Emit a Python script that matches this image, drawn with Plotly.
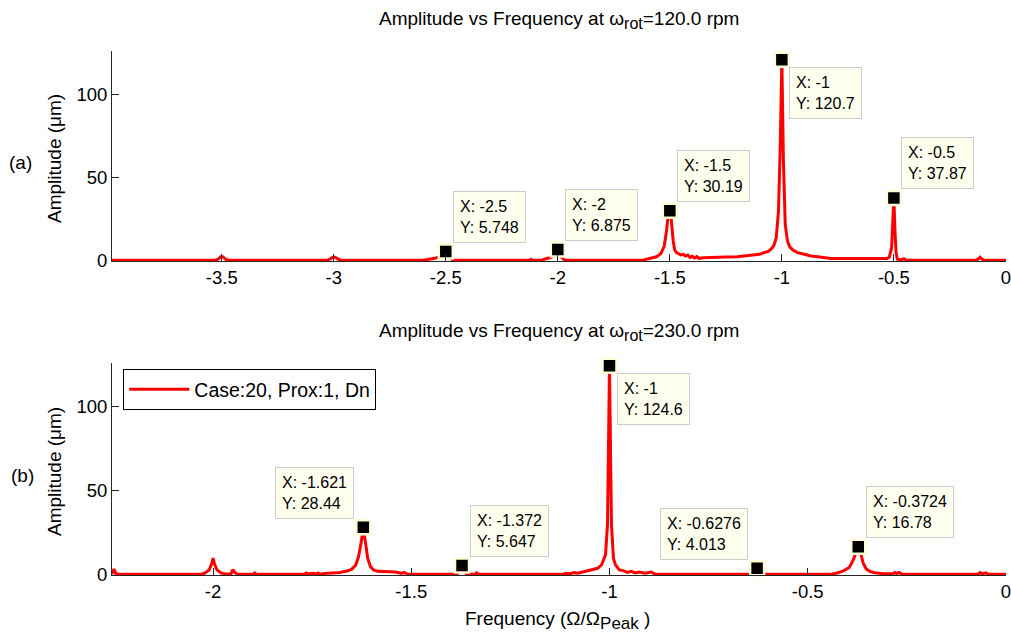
import plotly.graph_objects as go

# ---- spectrum at 120 rpm (panel a) ----
freq_a = [-3.99, -3.53, -3.515, -3.505, -3.495, -3.485, -3.47,
          -3.03, -3.015, -3.005, -2.995, -2.985, -2.97,
          -2.60, -2.58, -2.55, -2.53, -2.515, -2.50, -2.485, -2.47, -2.46,
          -2.13, -2.12, -2.11, -2.07, -2.05, -2.03, -2.015, -2.00, -1.985, -1.97, -1.96,
          -1.62, -1.60, -1.58, -1.56, -1.54, -1.525, -1.515, -1.507, -1.50, -1.493,
          -1.485, -1.478, -1.47, -1.46, -1.45, -1.44, -1.43, -1.42, -1.41, -1.40,
          -1.39, -1.38, -1.37, -1.35, -1.30, -1.25, -1.20, -1.15, -1.12, -1.10,
          -1.08, -1.06, -1.045, -1.035, -1.025, -1.015, -1.007, -1.00, -0.993,
          -0.985, -0.975, -0.965, -0.95, -0.93, -0.90, -0.87, -0.84, -0.80, -0.78,
          -0.53, -0.52, -0.51, -0.505, -0.50, -0.495, -0.49, -0.485, -0.47,
          -0.455, -0.445, -0.13, -0.12, -0.115, -0.11, -0.10, 0.0]
amp_a = [0.4, 0.4, 1.2, 2.6, 2.6, 1.2, 0.4,
         0.4, 1.3, 2.2, 2.2, 1.3, 0.4,
         0.4, 0.8, 1.6, 2.4, 3.5, 5.748, 2.5, 0.6, 0.4,
         0.4, 1.0, 0.4, 0.6, 1.5, 2.2, 3.5, 6.875, 2.5, 0.6, 0.4,
         0.5, 1.2, 1.8, 2.5, 4.5, 9.0, 18.0, 28.0, 30.19, 24.0,
         12.0, 6.5, 5.0, 4.2, 3.6, 4.0, 3.0, 3.6, 2.2, 2.8,
         1.8, 2.6, 1.6, 2.0, 2.0, 2.4, 2.6, 3.2, 3.6, 4.0,
         5.0, 5.8, 7.5, 9.5, 14.0, 30.0, 70.0, 120.7, 60.0,
         22.0, 12.0, 8.5, 6.5, 5.0, 4.0, 3.0, 2.5, 1.8, 1.5,
         1.5, 2.5, 8.0, 20.0, 37.87, 18.0, 5.0, 1.2, 0.6,
         1.4, 0.5, 0.5, 1.6, 2.2, 1.6, 0.5, 0.5]

# ---- spectrum at 230 rpm (panel b) ----
freq_b = [-2.255, -2.25, -2.245, -2.235, -2.03, -2.02, -2.01, -2.003, -2.00, -1.997,
          -1.99, -1.98, -1.97, -1.955, -1.95, -1.945, -1.94, -1.90, -1.895, -1.89,
          -1.77, -1.765, -1.76, -1.75, -1.74, -1.735, -1.73, -1.72, -1.70, -1.68,
          -1.66, -1.65, -1.64, -1.633, -1.626, -1.621, -1.616, -1.61, -1.603, -1.595,
          -1.585, -1.57, -1.54, -1.525, -1.518, -1.51, -1.50, -1.385, -1.377, -1.372,
          -1.367, -1.36, -1.34, -1.335, -1.33, -1.12, -1.11, -1.10, -1.09, -1.08,
          -1.07, -1.05, -1.04, -1.03, -1.02, -1.01, -1.005, -1.00, -0.995, -0.99,
          -0.985, -0.975, -0.965, -0.955, -0.945, -0.935, -0.925, -0.91, -0.895, -0.885,
          -0.87, -0.64, -0.6276, -0.615, -0.44, -0.425, -0.41, -0.395, -0.385, -0.378,
          -0.3724, -0.366, -0.36, -0.352, -0.342, -0.33, -0.31, -0.285, -0.28, -0.275,
          -0.27, -0.262, -0.07, -0.065, -0.06, -0.05, -0.045, 0.0]
amp_b = [0.5, 3.5, 0.8, 0.4, 0.4, 1.2, 3.0, 7.0, 10.0, 7.0,
         3.0, 1.2, 0.6, 0.6, 3.2, 1.5, 0.6, 0.4, 1.2, 0.4,
         0.4, 1.2, 0.5, 1.0, 0.6, 1.2, 0.4, 0.9, 1.2, 1.5,
         2.5, 3.5, 6.0, 11.0, 20.0, 28.44, 20.0, 10.0, 5.0, 3.0,
         2.2, 2.0, 1.8, 1.0, 1.6, 0.6, 0.4, 0.5, 2.0, 5.647,
         2.0, 0.5, 0.4, 1.3, 0.4, 0.4, 1.0, 0.7, 1.4, 1.0,
         1.6, 2.4, 3.2, 4.0, 6.0, 12.0, 30.0, 124.6, 30.0, 10.0,
         6.0, 3.0, 2.6, 1.6, 2.2, 1.2, 1.8, 1.0, 1.8, 0.6,
         0.5, 0.5, 4.013, 0.5, 0.5, 1.2, 2.5, 4.5, 9.0, 14.0,
         16.78, 13.0, 7.0, 3.5, 2.0, 1.3, 0.8, 0.7, 1.5, 0.8,
         1.5, 0.6, 0.5, 1.4, 0.7, 1.3, 0.5, 0.5]

# data-cursor points picked on each spectrum
tips_a_x = [-2.5, -2.0, -1.5, -1.0, -0.5]
tips_a_y = [5.748, 6.875, 30.19, 120.7, 37.87]
tips_a_pos = ["ur", "ur", "ur", "dr", "ur"]
tips_b_x = [-1.621, -1.372, -1.0, -0.6276, -0.3724]
tips_b_y = [28.44, 5.647, 124.6, 4.013, 16.78]
tips_b_pos = ["ul", "ur", "dr", "ul", "ur"]

xticks_a = [-3.5, -3.0, -2.5, -2.0, -1.5, -1.0, -0.5, 0.0]
xticks_b = [-2.0, -1.5, -1.0, -0.5, 0.0]
yticks = [0, 50, 100]

W, H = 1011, 634
L, R, T, B = 112, 5, 51, 59
PW, PH = W - L - R, H - T - B
FONT = "Liberation Sans, Arial, sans-serif"


def px(xp):
    return (xp - L) / PW


def py(yp):
    return (H - B - yp) / PH


def fmt(v):
    return "%.4g" % v


fig = go.Figure()
fig.add_trace(go.Scatter(x=freq_a, y=amp_a, mode="lines", xaxis="x", yaxis="y",
                         line=dict(color="#ff0000", width=3), showlegend=False))
fig.add_trace(go.Scatter(x=freq_b, y=amp_b, mode="lines", xaxis="x2", yaxis="y2",
                         line=dict(color="#ff0000", width=3),
                         name="Case:20, Prox:1, Dn", showlegend=True))

marker_style = dict(symbol="square", size=14, color="black",
                    line=dict(color="#fffbd6", width=2.5))
fig.add_trace(go.Scatter(x=tips_a_x, y=tips_a_y, mode="markers", xaxis="x", yaxis="y",
                         marker=marker_style, showlegend=False, cliponaxis=False))
fig.add_trace(go.Scatter(x=tips_b_x, y=tips_b_y, mode="markers", xaxis="x2", yaxis="y2",
                         marker=marker_style, showlegend=False, cliponaxis=False))

annotations = []
placements = {
    "ur": dict(xanchor="left", yanchor="bottom", xshift=7.5, yshift=8.5),
    "dr": dict(xanchor="left", yanchor="top", xshift=7.5, yshift=-7.5),
    "ul": dict(xanchor="right", yanchor="bottom", xshift=-9, yshift=8),
}
for xs, ys, ps, xr, yr in [(tips_a_x, tips_a_y, tips_a_pos, "x", "y"),
                           (tips_b_x, tips_b_y, tips_b_pos, "x2", "y2")]:
    for xv, yv, pv in zip(xs, ys, ps):
        annotations.append(dict(
            x=xv, y=yv, xref=xr, yref=yr, showarrow=False,
            text="X: %s<br>Y: %s" % (fmt(xv), fmt(yv)), align="left",
            font=dict(family=FONT, size=16, color="black"),
            bgcolor="#ffffee", bordercolor="#cccccc", borderwidth=1, borderpad=6,
            **placements[pv]))

title_font = dict(family=FONT, size=19, color="black")
label_font = dict(family=FONT, size=19, color="black")
sub_rot = "<sub><span style='font-size:16px'>rot</span></sub>"
sub_peak = "<sub><span style='font-size:17px'>Peak</span></sub>"
annotations += [
    dict(x=0.5, y=py(20), xref="paper", yref="paper", showarrow=False,
         text="Amplitude vs Frequency at ω" + sub_rot + "=120.0 rpm",
         font=title_font, xanchor="center", yanchor="middle"),
    dict(x=0.5, y=py(332), xref="paper", yref="paper", showarrow=False,
         text="Amplitude vs Frequency at ω" + sub_rot + "=230.0 rpm",
         font=title_font, xanchor="center", yanchor="middle"),
    dict(x=px(54), y=py(159), xref="paper", yref="paper", showarrow=False,
         text="Amplitude (μm)", textangle=-90, font=label_font,
         xanchor="center", yanchor="middle"),
    dict(x=px(54), y=py(472), xref="paper", yref="paper", showarrow=False,
         text="Amplitude (μm)", textangle=-90, font=label_font,
         xanchor="center", yanchor="middle"),
    dict(x=px(20), y=py(162), xref="paper", yref="paper", showarrow=False,
         text="(a)", font=label_font, xanchor="center", yanchor="middle"),
    dict(x=px(22), y=py(475), xref="paper", yref="paper", showarrow=False,
         text="(b)", font=label_font, xanchor="center", yanchor="middle"),
    dict(x=px(557), y=py(620), xref="paper", yref="paper", showarrow=False,
         text="Frequency (Ω/Ω" + sub_peak + " )", font=label_font,
         xanchor="center", yanchor="middle"),
]

axis_common = dict(showgrid=False, zeroline=False, showline=True, linecolor="#262626",
                   linewidth=1, ticks="inside", ticklen=7, tickwidth=1, tickcolor="#262626",
                   ticklabeloverflow="allow", automargin=False,
                   tickfont=dict(family=FONT, size=18.5, color="black"))


def tick_text(vals):
    return [("%g" % v) if v != 0 else "0" for v in vals]


fig.update_layout(
    width=W, height=H, margin=dict(l=L, r=R, t=T, b=B, autoexpand=False),
    paper_bgcolor="white", plot_bgcolor="white",
    font=dict(family=FONT, size=18, color="black"),
    xaxis=dict(domain=[0, 1], anchor="y", range=[-3.99, 0.0005], tickvals=xticks_a,
               ticktext=tick_text(xticks_a), **axis_common),
    yaxis=dict(domain=[py(261), py(51)], anchor="x", range=[0, 126], tickvals=yticks,
               **axis_common),
    xaxis2=dict(domain=[0, 1], anchor="y2", range=[-2.255, 0.0003], tickvals=xticks_b,
                ticktext=tick_text(xticks_b), **axis_common),
    yaxis2=dict(domain=[py(575), py(363.3)], anchor="x2", range=[0, 126], tickvals=yticks,
                **axis_common),
    legend=dict(x=px(123.3), y=py(369), xanchor="left", yanchor="top",
                bgcolor="white", bordercolor="black", borderwidth=1,
                font=dict(family=FONT, size=19.5, color="black"), itemwidth=60),
    annotations=annotations,
)

fig.write_html("out.html")
